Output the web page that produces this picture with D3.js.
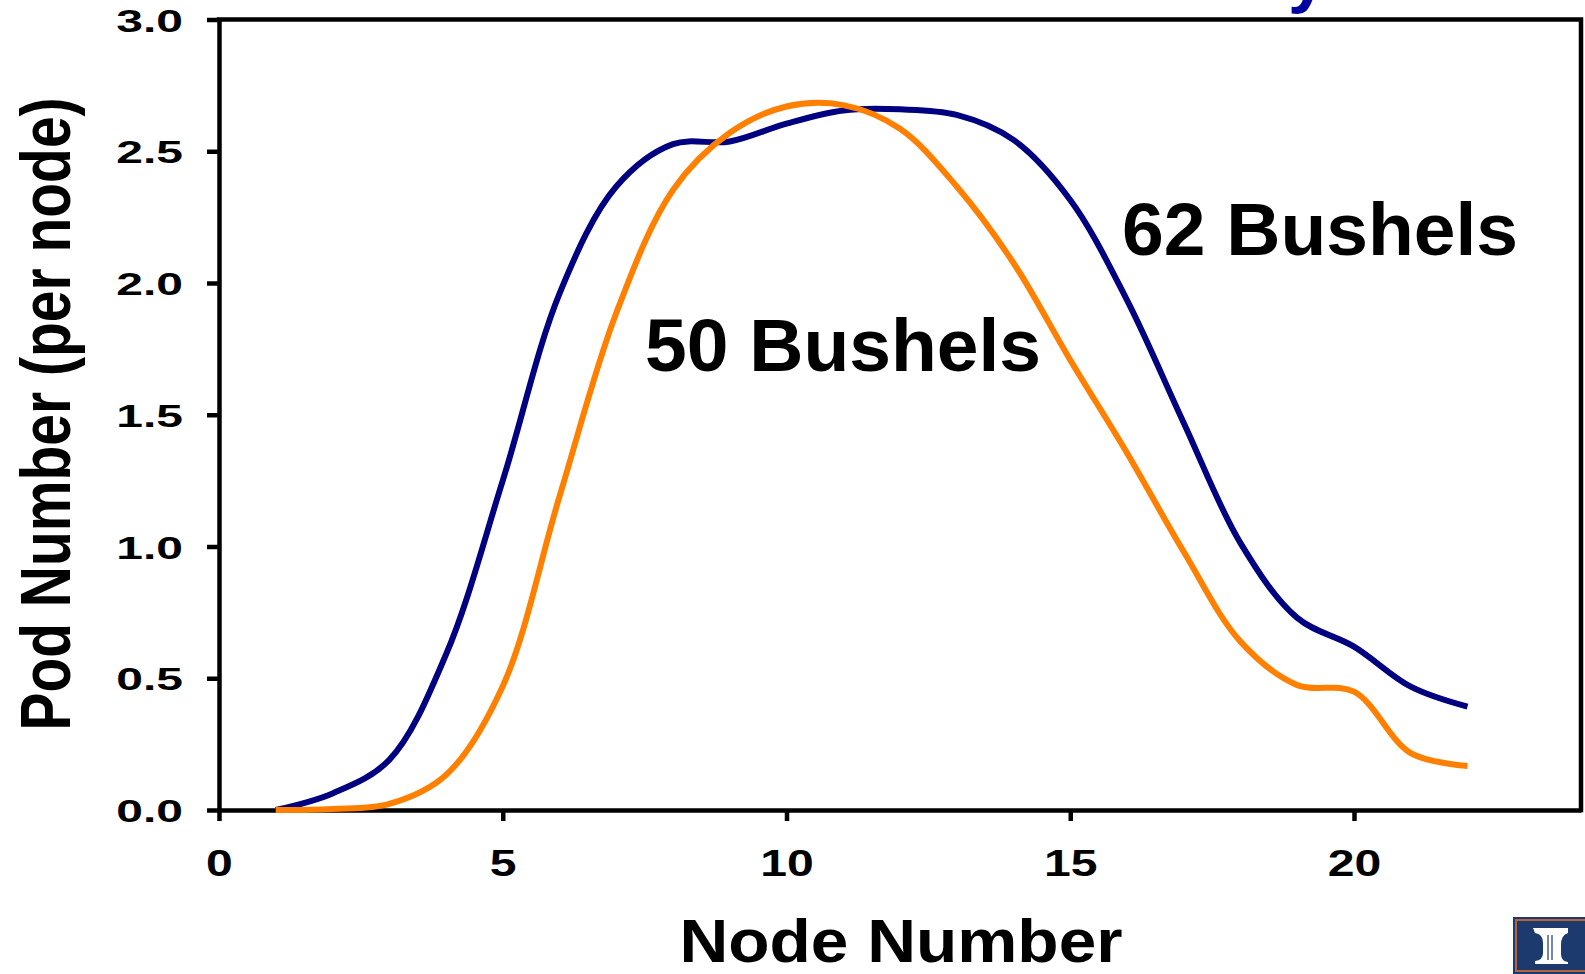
<!DOCTYPE html>
<html>
<head>
<meta charset="utf-8">
<script src="https://cdn.jsdelivr.net/npm/d3@7"></script>
<style>
  html, body { margin: 0; padding: 0; background: #fff; }
  svg { display: block; font-family: "Liberation Sans", Arial, sans-serif; }
</style>
</head>
<body>
<svg id="chart" width="1585" height="974"></svg>
<script>
// ---- data ----
const nodes = [1,2,3,4,5,6,7,8,9,10,11,12,13,14,15,16,17,18,19,20,21,22];
const bushels62 = [0.0, 0.063, 0.19, 0.59, 1.25, 1.96, 2.366, 2.527, 2.537, 2.605, 2.655, 2.659, 2.638, 2.543, 2.315, 1.935, 1.469, 1.013, 0.729, 0.62, 0.468, 0.392];
const bushels50 = [0.0, 0.004, 0.023, 0.133, 0.47, 1.19, 1.886, 2.353, 2.57, 2.67, 2.675, 2.585, 2.366, 2.076, 1.708, 1.355, 0.98, 0.639, 0.474, 0.449, 0.216, 0.167];
const seriesNames = ["62 Bushels", "50 Bushels"];
const seriesColors = ["#000080", "#FF8000"];
const xTicks = [0, 5, 10, 15, 20];
const yTicks = [0.0, 0.5, 1.0, 1.5, 2.0, 2.5, 3.0];
const xTitle = "Node Number";
const yTitle = "Pod Number (per node)";
const titleTail = "y";

// ---- layout ----
const svg = d3.select("#chart");
const x = d3.scaleLinear().domain([0, 24]).range([219, 1581]);
const y = d3.scaleLinear().domain([0, 3]).range([810, 19.5]);
const AXW = 4.5;

// cut-off title remnant (title runs above the visible area)
svg.append("text")
  .attr("x", 1288).attr("y", -1)
  .attr("font-size", 70).attr("font-weight", "bold")
  .attr("fill", "#0000A0")
  .text(titleTail);

// frame top & right
svg.append("path")
  .attr("d", `M${x(0)},${y(3)}H${x(24)}V${y(0)}`)
  .attr("fill", "none").attr("stroke", "#000").attr("stroke-width", AXW)
  .attr("stroke-linecap", "square");

// axes
const gx = svg.append("g").attr("transform", `translate(0,${y(0)})`)
  .call(d3.axisBottom(x).tickValues(xTicks).tickSize(11).tickSizeOuter(0).tickFormat(d3.format("d")));
const gy = svg.append("g").attr("transform", `translate(${x(0)},0)`)
  .call(d3.axisLeft(y).tickValues(yTicks).tickSize(12).tickSizeOuter(0).tickFormat(d3.format(".1f")));

[gx, gy].forEach(g => {
  g.select(".domain").attr("stroke", "#000").attr("stroke-width", AXW);
  g.selectAll(".tick line").attr("stroke", "#000").attr("stroke-width", AXW);
  g.selectAll("text").attr("font-family", "Liberation Sans, Arial, sans-serif")
    .attr("font-weight", "bold").attr("fill", "#000");
});
gx.selectAll(".tick text")
  .attr("font-size", 37).attr("y", 0).attr("dy", 0)
  .attr("text-anchor", "middle")
  .attr("transform", "translate(0,66) scale(1.3,1)");
gy.selectAll(".tick text")
  .attr("font-size", 32).attr("x", 0).attr("dy", "0.36em")
  .attr("text-anchor", "end")
  .attr("transform", "translate(-36,0) scale(1.5,1)");

// lines
const line = d3.line()
  .x((d, i) => x(nodes[i]))
  .y(d => y(d))
  .curve(d3.curveCatmullRom.alpha(0.5));

[bushels62, bushels50].forEach((s, k) => {
  svg.append("path")
    .datum(s)
    .attr("d", line)
    .attr("fill", "none")
    .attr("stroke", seriesColors[k])
    .attr("stroke-width", 6)
    .attr("stroke-linejoin", "round");
});

// annotations
svg.append("text").attr("x", 1122).attr("y", 255)
  .attr("font-size", 75).attr("font-weight", "bold").attr("fill", "#000")
  .text(seriesNames[0]);
svg.append("text").attr("x", 645).attr("y", 371)
  .attr("font-size", 75).attr("font-weight", "bold").attr("fill", "#000")
  .text(seriesNames[1]);

// axis titles
svg.append("text")
  .attr("transform", "translate(901,962) scale(1.09,1)")
  .attr("text-anchor", "middle")
  .attr("font-size", 62).attr("font-weight", "bold").attr("fill", "#000")
  .text(xTitle);
svg.append("text")
  .attr("transform", "translate(70,414) rotate(-90) scale(1,1.25)")
  .attr("text-anchor", "middle")
  .attr("font-size", 57).attr("font-weight", "bold").attr("fill", "#000")
  .text(yTitle);

// logo (bottom-right corner)
const logo = svg.append("g").attr("transform", "translate(1513,917)");
logo.append("rect").attr("x", 0).attr("y", 0).attr("width", 75).attr("height", 57).attr("fill", "#1c3a6e");
logo.append("rect").attr("x", 3).attr("y", 3).attr("width", 80).attr("height", 51)
  .attr("fill", "none").attr("stroke", "#b4643c").attr("stroke-width", 2);
logo.append("path")
  .attr("d", "M20,11 H55 V16 Q48,18 48,28 V37 Q48,44 55,45 V47 H22 V44 Q30,43 30,36 V26 Q30,17 22,16 Z")
  .attr("fill", "#ffffff");
logo.append("path")
  .attr("d", "M35,18 V43 M39,18 V43")
  .attr("stroke", "#1c3a6e").attr("stroke-width", 1.2);
</script>
</body>
</html>
